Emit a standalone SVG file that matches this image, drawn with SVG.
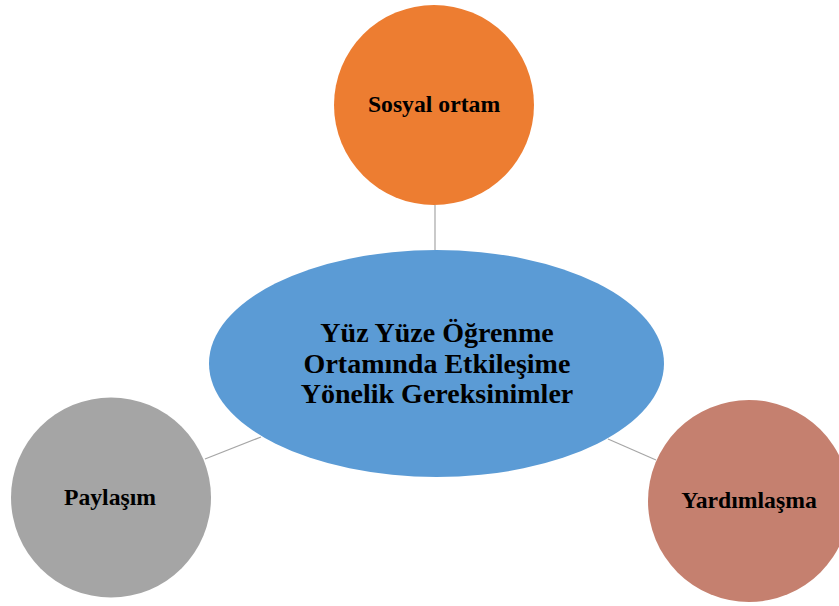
<svg xmlns="http://www.w3.org/2000/svg" width="839" height="606" viewBox="0 0 839 606">
  <style>
    .link { stroke: #A6A6A6; stroke-width: 1.2; fill: none; }
    .label { font-family: "Liberation Serif", "Times New Roman", serif; font-weight: bold; fill: #000; text-anchor: middle; }
    .small { font-size: 23.7px; }
    .big { font-size: 28px; }
  </style>
  <rect width="839" height="606" fill="#FFFFFF"/>
  <!-- connectors between the hub and the satellites -->
  <g id="connectors">
    <line class="link" x1="435" y1="205" x2="435" y2="250"/>
    <line class="link" x1="205" y1="459" x2="261" y2="437"/>
    <line class="link" x1="608" y1="439" x2="656" y2="460"/>
  </g>
  <g id="node-sosyal-ortam">
    <circle cx="434" cy="105" r="100" fill="#ED7D31"/>
    <text class="label small" x="434" y="112">Sosyal ortam</text>
  </g>
  <g id="node-center">
    <ellipse cx="436.5" cy="363.5" rx="227.5" ry="113.5" fill="#5B9BD5"/>
    <text class="label big" x="437" y="342">Yüz Yüze Öğrenme</text>
    <text class="label big" x="437" y="373">Ortamında Etkileşime</text>
    <text class="label big" x="437" y="403">Yönelik Gereksinimler</text>
  </g>
  <g id="node-paylasim">
    <circle cx="111" cy="497.5" r="100" fill="#A5A5A5"/>
    <text class="label small" x="110" y="505">Paylaşım</text>
  </g>
  <g id="node-yardimlasma">
    <circle cx="749" cy="501" r="101" fill="#C5806F"/>
    <text class="label small" x="749" y="508">Yardımlaşma</text>
  </g>
</svg>
